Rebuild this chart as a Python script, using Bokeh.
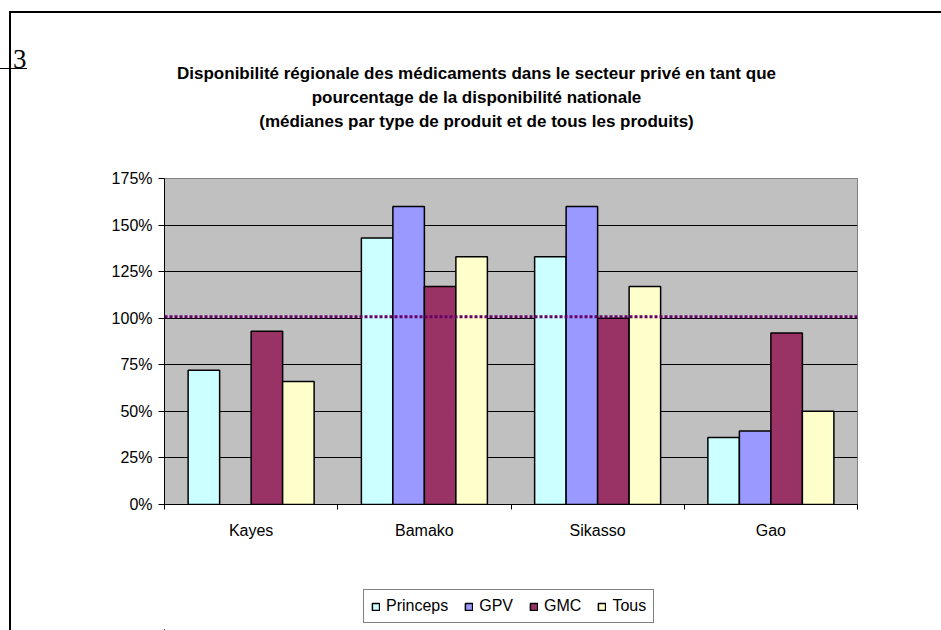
from bokeh.plotting import figure
from bokeh.layouts import column
from bokeh.models import (Range1d, FixedTicker, PrintfTickFormatter, Span,
                          Legend, LegendItem, ColumnDataSource)
from bokeh.core.properties import value
from bokeh.embed import file_html
from bokeh.resources import INLINE

# ---- data ----
regions = ["Kayes", "Bamako", "Sikasso", "Gao"]
series_names = ["Princeps", "GPV", "GMC", "Tous"]
princeps = [72, 143, 133, 36]
gpv = [float("nan"), 160, 160, 39.5]
gmc = [93, 117, 100, 92]
tous = [66, 133, 117, 50]
national_ref = 100.8
y_ticks = [0, 25, 50, 75, 100, 125, 150, 175]
title_lines = [
    "Disponibilité régionale des médicaments dans le secteur privé en tant que",
    "pourcentage de la disponibilité nationale",
    "(médianes par type de produit et de tous les produits)",
]
colors = ["#CCFFFF", "#9999FF", "#993366", "#FFFFCC"]

FONT = "Liberation Sans"
W = 941
H_TOP, H_MAIN, H_BOT = 150, 439, 41
BL, BR = 164, 84          # left / right borders shared by the three stacked figures
FX0, FX1 = BL, W - BR     # horizontal extent of the plot frames, in page pixels


def blank_fig(h, yr, y_axis=None):
    f = figure(width=W, height=h, x_range=Range1d(FX0, FX1), y_range=yr,
               output_backend="svg", toolbar_location=None, title=None,
               x_axis_type=None, y_axis_type=y_axis,
               min_border_left=BL, min_border_right=BR, min_border_top=0, min_border_bottom=0,
               background_fill_color=None, border_fill_color=None, outline_line_color=None)
    f.grid.visible = False
    return f


# ---- top: title (page-pixel coordinates, y downwards) ----
p_top = blank_fig(H_TOP, Range1d(H_TOP, 0), y_axis="linear")
p_top.text(x=[476] * 3, y=[73, 97, 121], text=title_lines,
           text_align="center", text_baseline="middle", text_font=value(FONT),
           text_font_size=value("17px"), text_font_style=value("bold"), text_color="black")
# fragment of the surrounding document ("... 3") shown left of the chart object
ta = p_top.yaxis[0]
ta.ticker = FixedTicker(ticks=[58])
ta.major_label_overrides = {58: "3"}
ta.axis_line_color = None
ta.major_tick_line_color = None
ta.minor_tick_line_color = None
ta.major_tick_out = 0
ta.major_label_standoff = 138
ta.major_label_text_font = "Liberation Serif"
ta.major_label_text_font_size = "27px"
ta.major_label_text_color = "black"

# ---- main chart ----
p = figure(width=W, height=H_MAIN, x_range=Range1d(0, len(regions)), y_range=Range1d(0, 175),
           output_backend="svg", toolbar_location=None, title=None,
           min_border_left=BL, min_border_right=BR, min_border_top=28, min_border_bottom=85,
           background_fill_color="#C0C0C0", border_fill_color=None,
           outline_line_color="#808080", outline_line_width=1)

p.xgrid.visible = False
p.ygrid.grid_line_color = "black"
p.ygrid.grid_line_width = 1
p.ygrid.ticker = FixedTicker(ticks=y_ticks)

ya = p.yaxis[0]
ya.ticker = FixedTicker(ticks=y_ticks)
ya.formatter = PrintfTickFormatter(format="%d%%")
ya.major_tick_out = 6
ya.major_tick_in = 0
ya.minor_tick_out = 0
ya.minor_tick_in = 0
ya.axis_line_color = "black"
ya.major_tick_line_color = "black"
ya.major_label_text_font = FONT
ya.major_label_text_font_size = "16px"
ya.major_label_text_color = "black"
ya.major_label_standoff = 6

xa = p.xaxis[0]
centers = [i + 0.5 for i in range(len(regions))]
xa.ticker = FixedTicker(ticks=centers, minor_ticks=list(range(len(regions) + 1)))
xa.major_label_overrides = {c: r for c, r in zip(centers, regions)}
xa.major_tick_out = 0
xa.major_tick_in = 0
xa.minor_tick_out = 5
xa.minor_tick_in = 0
xa.minor_tick_line_color = "black"
xa.axis_line_color = "black"
xa.major_label_text_font = FONT
xa.major_label_text_font_size = "16px"
xa.major_label_text_color = "black"
xa.major_label_standoff = 12

bw = 1 / (len(series_names) + 1.5)
sources = []
for k, (name, vals, col) in enumerate(zip(series_names, [princeps, gpv, gmc, tous], colors)):
    xs = [i + 0.5 + (k - 1.5) * bw for i in range(len(regions))]
    src = ColumnDataSource(dict(x=xs, top=vals))
    sources.append(src)
    p.vbar(x="x", top="top", width=bw, bottom=0, source=src,
           fill_color=col, line_color="black", line_width=1.5)

p.add_layout(Span(location=national_ref, dimension="width", line_color="#660066",
                  line_width=3, line_dash="3 2"))

# ---- bottom: legend (proxy renderers share the bar data; that data lies below this frame) ----
p_bot = blank_fig(H_BOT, Range1d(1000, 1000 + H_BOT))
proxies = []
for name, col, src in zip(series_names, colors, sources):
    r = p_bot.vbar(x="x", top="top", width=bw, bottom=0, source=src,
                   fill_color=col, line_color="black", line_width=1.5)
    proxies.append(r)

legend = Legend(items=[LegendItem(label=n, renderers=[r]) for n, r in zip(series_names, proxies)],
                location=(363 - FX0, 7), orientation="horizontal",
                border_line_color="black", border_line_width=1,
                background_fill_color="white", background_fill_alpha=1,
                glyph_width=9, glyph_height=9, label_text_font=FONT,
                label_text_font_size="16px", label_text_color="black",
                padding=7, spacing=16, label_standoff=6, margin=0)
p_bot.add_layout(legend)

layout = column(p_top, p, p_bot, spacing=0)
# frame of the pasted chart object (left and top edges) and underline of the "3"
layout.styles = {
    "background-color": "white",
    "background-image": ("linear-gradient(#000,#000), linear-gradient(#000,#000), "
                         "linear-gradient(#000,#000)"),
    "background-size": "2px 2000px, 2000px 2px, 27px 1px",
    "background-position": "9px 11px, 9px 11px, 0px 68px",
    "background-repeat": "no-repeat",
}

open("out.html", "w").write(file_html(layout, INLINE))
